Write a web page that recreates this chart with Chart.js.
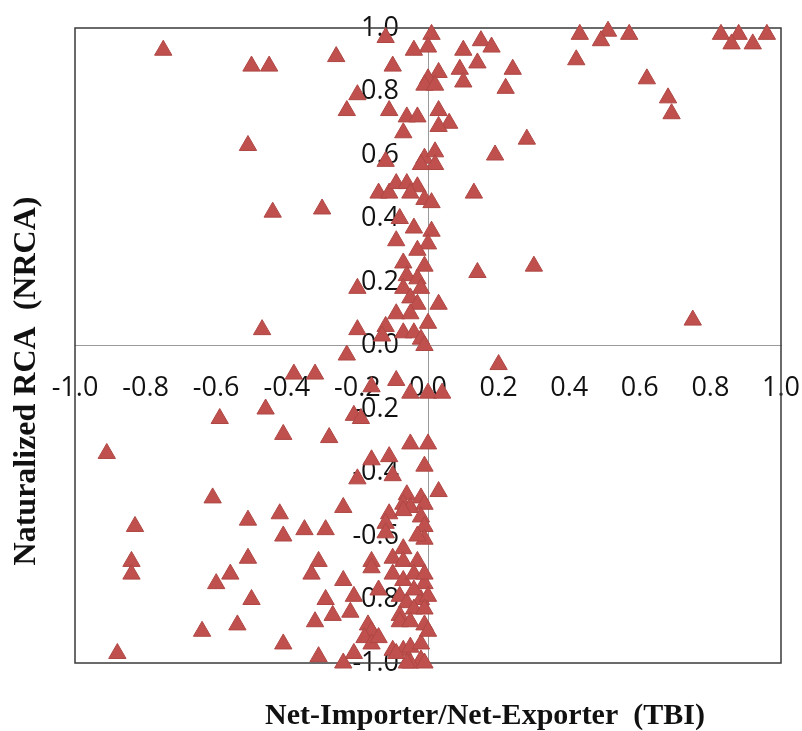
<!DOCTYPE html>
<html>
<head>
<meta charset="utf-8">
<script src="https://cdn.jsdelivr.net/npm/chart.js@4.4.1/dist/chart.umd.min.js"></script>
<style>
  body { margin: 0; background: #fff; }
  canvas { display: block; }
</style>
</head>
<body>
<canvas id="myScatter" width="802" height="731"></canvas>
<script>
// TBI (eje x) y NRCA (eje y)
const tbi = [
  -0.75, -0.50, -0.45, -0.26, -0.20, -0.23, -0.51, -0.44, -0.30, -0.20, -0.47, -0.20, -0.23,
  -0.38, -0.32, -0.59, -0.46, -0.41, -0.28, -0.21, -0.19, -0.91, -0.20, -0.61, -0.24, -0.83,
  -0.51, -0.42, -0.41, -0.35, -0.29, -0.84, -0.84, -0.51, -0.56, -0.60, -0.31, -0.33, -0.50,
  -0.24, -0.21, -0.29, -0.27, -0.32, -0.22, -0.64, -0.54, -0.41, -0.88, -0.31, -0.24, -0.21,
  -0.12, 0.01, 0.00, -0.04, -0.10, 0.03, 0.00, -0.01, 0.02, -0.11, -0.06, -0.03, -0.07, 0.03,
  0.06, 0.03, -0.01, 0.02, 0.02, -0.02, -0.12, -0.14, -0.11, -0.09, -0.06, -0.03, -0.05, -0.01,
  0.01, -0.08, -0.04, 0.01, -0.09, 0.00, -0.03, -0.07, -0.01, -0.06, -0.03, -0.02, -0.07, -0.05,
  -0.03, 0.03, -0.09, -0.05, 0.00, -0.12, -0.13, -0.07, -0.04, -0.02, -0.01,
  -0.09, -0.16, -0.05, 0.00, 0.04, -0.05, 0.00, -0.01, -0.16, -0.11, -0.10, 0.03, -0.06, -0.02,
  -0.07, -0.05, -0.01, -0.11, -0.07, -0.02, -0.12, -0.01, -0.12, -0.01, -0.03, -0.07, -0.16,
  -0.16, -0.10, -0.07, -0.03, -0.10, -0.07, -0.04, -0.01, -0.14, -0.08, -0.06, -0.02, 0.00,
  -0.08, -0.04, -0.01, -0.08, -0.05, -0.01, -0.17, -0.16, -0.18, -0.16, -0.14, -0.10, -0.07,
  -0.05, -0.02, 0.00, -0.02, -0.05, -0.01, -0.06, -0.09, -0.01, -0.04,
  0.10, 0.15, 0.18, 0.14, 0.09, 0.10, 0.24, 0.22, 0.43, 0.51, 0.49, 0.57, 0.42, 0.83, 0.88,
  0.86, 0.92, 0.96, 0.62, 0.68, 0.69, 0.28, 0.19, 0.13, 0.14, 0.30, 0.75, 0.20
];
const nrca = [
  0.93, 0.88, 0.88, 0.91, 0.79, 0.74, 0.63, 0.42, 0.43, 0.18, 0.05, 0.05, -0.03,
  -0.09, -0.09, -0.23, -0.20, -0.28, -0.29, -0.22, -0.23, -0.34, -0.42, -0.48, -0.51, -0.57,
  -0.55, -0.53, -0.60, -0.58, -0.58, -0.68, -0.72, -0.67, -0.72, -0.75, -0.68, -0.72, -0.80,
  -0.74, -0.79, -0.80, -0.85, -0.87, -0.84, -0.90, -0.88, -0.94, -0.97, -0.98, -1.00, -0.97,
  0.97, 0.98, 0.94, 0.93, 0.88, 0.86, 0.84, 0.82, 0.82, 0.74, 0.72, 0.72, 0.67, 0.74,
  0.70, 0.69, 0.59, 0.61, 0.57, 0.57, 0.58, 0.48, 0.48, 0.51, 0.51, 0.50, 0.48, 0.46,
  0.45, 0.40, 0.37, 0.36, 0.33, 0.32, 0.30, 0.26, 0.25, 0.22, 0.21, 0.18, 0.18, 0.15,
  0.13, 0.13, 0.10, 0.10, 0.07, 0.06, 0.03, 0.04, 0.04, 0.02, 0.00,
  -0.11, -0.13, -0.15, -0.15, -0.15, -0.31, -0.31, -0.38, -0.36, -0.35, -0.41, -0.46, -0.47, -0.48,
  -0.50, -0.51, -0.50, -0.53, -0.52, -0.54, -0.56, -0.57, -0.59, -0.61, -0.60, -0.64, -0.68,
  -0.70, -0.67, -0.68, -0.68, -0.72, -0.74, -0.72, -0.75, -0.77, -0.79, -0.81, -0.80, -0.79,
  -0.85, -0.83, -0.83, -0.87, -0.87, -0.88, -0.88, -0.90, -0.92, -0.94, -0.92, -0.96, -0.96,
  -0.95, -0.94, -0.90, -0.99, -1.00, -1.00, -1.00, -0.97, -0.72, -0.77,
  0.93, 0.96, 0.94, 0.89, 0.87, 0.83, 0.87, 0.81, 0.98, 0.99, 0.96, 0.98, 0.90, 0.98, 0.98,
  0.95, 0.95, 0.98, 0.84, 0.78, 0.73, 0.65, 0.60, 0.48, 0.23, 0.25, 0.08, -0.06
];
const ticksValues = [-1.0, -0.8, -0.6, -0.4, -0.2, 0.0, 0.2, 0.4, 0.6, 0.8, 1.0];

const xTitle = 'Net-Importer/Net-Exporter  (TBI)';
const yTitle = 'Naturalized RCA  (NRCA)';

const puntos = tbi.map((v, i) => ({ x: v, y: nrca[i] }));

// marco del area y titulos de los ejes
const marcoPlugin = {
  id: 'marco',
  beforeDatasetsDraw(chart) {
    const { ctx, chartArea } = chart;
    ctx.save();
    ctx.strokeStyle = '#3a3a3a';
    ctx.lineWidth = 1.5;
    ctx.strokeRect(chartArea.left, chartArea.top, chartArea.right - chartArea.left, chartArea.bottom - chartArea.top);
    ctx.restore();
  },
  afterDraw(chart) {
    const { ctx } = chart;
    ctx.save();
    ctx.fillStyle = '#111';
    ctx.textAlign = 'center';
    ctx.textBaseline = 'middle';
    ctx.font = 'bold 30px "Liberation Serif", "Times New Roman", serif';
    ctx.fillText(xTitle, 485, 716);
    ctx.font = 'bold 32px "Liberation Serif", "Times New Roman", serif';
    ctx.translate(27, 381);
    ctx.rotate(-Math.PI / 2);
    ctx.fillText(yTitle, 0, 0);
    ctx.restore();
  }
};

const tickFont = { family: '"Open Sans", sans-serif', size: 27 };
const fijarTicks = (axis) => { axis.ticks = ticksValues.map(v => ({ value: v })); };
// que las etiquetas no achiquen el area del grafico
const sinRelleno = (axis) => {
  axis.paddingLeft = 0; axis.paddingRight = 0; axis.paddingTop = 0; axis.paddingBottom = 0;
};
const formato = (v) => Number(v).toFixed(1);

new Chart(document.getElementById('myScatter').getContext('2d'), {
  type: 'scatter',
  data: {
    datasets: [{
      data: puntos,
      pointStyle: 'triangle',
      pointRadius: 10,
      pointHoverRadius: 10,
      backgroundColor: '#C0504D',
      borderColor: '#AE4744',
      borderWidth: 1,
      clip: false
    }]
  },
  options: {
    responsive: false,
    animation: false,
    layout: { padding: { left: 75, top: 28, right: 21, bottom: 68 } },
    plugins: { legend: { display: false }, tooltip: { enabled: false } },
    scales: {
      x: {
        type: 'linear',
        min: -1, max: 1,
        position: { y: 0 },
        z: 1,
        grid: { display: false, drawTicks: false },
        border: { display: true, color: '#9a9a9a', width: 1 },
        afterBuildTicks: fijarTicks,
        afterFit: sinRelleno,
        ticks: {
          autoSkip: false, maxRotation: 0, padding: 27,
          color: '#111', font: tickFont, callback: formato
        }
      },
      y: {
        type: 'linear',
        min: -1, max: 1,
        position: { x: 0 },
        grid: { display: false, drawTicks: false },
        border: { display: true, color: '#9a9a9a', width: 1 },
        afterBuildTicks: fijarTicks,
        afterFit: sinRelleno,
        ticks: { display: false }
      },
      // etiquetas del eje y, un poco a la izquierda de la linea x = 0
      yEtiquetas: {
        type: 'linear',
        axis: 'y',
        min: -1, max: 1,
        position: { x: -0.082 },
        z: 1,
        grid: { display: false, drawTicks: false },
        border: { display: false },
        afterBuildTicks: fijarTicks,
        afterFit: sinRelleno,
        ticks: {
          autoSkip: false, color: '#111', font: tickFont, callback: formato
        }
      }
    }
  },
  plugins: [marcoPlugin]
});
</script>
</body>
</html>
